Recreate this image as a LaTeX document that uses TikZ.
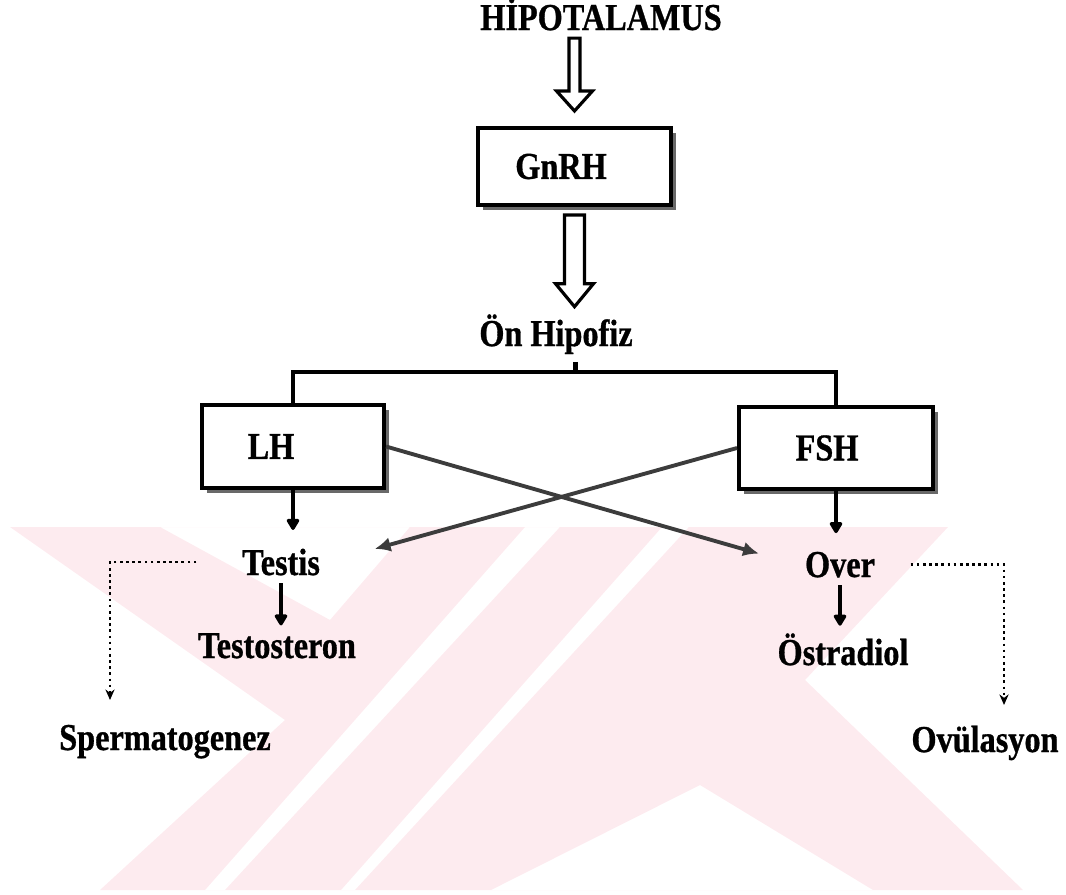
\documentclass[tikz,border=0pt]{standalone}
\usepackage{fontspec}
\setmainfont{Liberation Serif}[FakeStretch=0.85,BoldFeatures={FakeBold=0.8}]
\usepackage{tikz}
\usetikzlibrary{arrows.meta,positioning,calc,shadows}
\definecolor{WMpink}{RGB}{253,235,239}
\definecolor{CrossGray}{RGB}{60,60,60}
\definecolor{ShadowGray}{RGB}{105,105,105}
\tikzset{
  lbl/.style={font=\fontsize{10.8}{13}\selectfont\bfseries,inner sep=2pt},
  hbox/.style={lbl,rectangle,draw=black,line width=1.15pt,fill=white,
               drop shadow={shadow xshift=0.05cm,shadow yshift=-0.05cm,
                            fill=ShadowGray,opacity=1}},
  fat/.style n args={3}{draw=black,line width=0.9pt,fill=white,line join=miter,
     to path={let \p1=(\tikztostart),\p2=(\tikztotarget) in
       (\x1-#1,\y1) -- (\x1-#1,\y2+#3) -- (\x1-#2,\y2+#3) -- (\x1,\y2)
       -- (\x1+#2,\y2+#3) -- (\x1+#1,\y2+#3) -- (\x1+#1,\y1) -- cycle}},
  trunk/.style={line width=1.4pt,line join=miter},
  tick/.style={-{Triangle[round,length=3.6pt,width=4pt]},line width=1.1pt},
  cross/.style={-{Latex[length=4.5pt,width=4.2pt]},line width=1.1pt,CrossGray},
  feed/.style={-{Stealth[length=3pt,width=2.6pt]},densely dotted,line width=0.75pt},
}

\begin{document}
\begin{tikzpicture}[x=1cm,y=1cm]
  \useasboundingbox (0,0) rectangle (10.66,8.94);

  % watermark in the back
  \fill[WMpink,even odd rule]
    (0.10,3.67) -- (9.48,3.67) -- (8.05,2.14) -- (10.23,0.04) -- (1.00,0.04) -- (2.85,1.74) -- cycle
    (1.60,3.67) -- (4.10,3.67) -- (3.30,2.74) -- cycle
    (5.25,3.67) -- (5.60,3.67) -- (2.25,0.04) -- (2.05,0.04) -- cycle
    (6.62,3.67) -- (6.89,3.67) -- (3.55,0.04) -- (3.41,0.04) -- cycle
    (7.00,1.09) -- (8.73,0.04) -- (4.91,0.04) -- cycle;

  \node[lbl,anchor=base] (hipo) at (6.01,8.64) {HİPOTALAMUS};
  \node[hbox,minimum width=1.93cm,minimum height=0.77cm] (gnrh) at (5.745,7.275) {\hspace*{-0.27cm}GnRH};
  \node[lbl,anchor=base] (onhip) at (5.56,5.48) {Ön Hipofiz};
  \node[hbox,minimum width=1.82cm,minimum height=0.83cm] (lh) at (2.93,4.475) {\hspace*{-0.44cm}LH};
  \node[hbox,minimum width=1.94cm,minimum height=0.82cm] (fsh) at (8.36,4.46) {\hspace*{-0.18cm}FSH};

  \node[lbl,anchor=base] (testis) at (2.81,3.19) {Testis};
  \node[lbl,anchor=base] (testo) at (2.77,2.36) {Testosteron};
  \node[lbl,anchor=base] (sperm) at (1.65,1.44) {Spermatogenez};
  \node[lbl,anchor=base] (over) at (8.40,3.17) {Over};
  \node[lbl,anchor=base] (ostr) at (8.43,2.29) {Östradiol};
  \node[lbl,anchor=base] (ovul) at (9.85,1.42) {Ovülasyon};

  \coordinate (split) at (5.755,5.22);
  \coordinate (spdrop) at (1.10,1.94);
  \coordinate (ovdrop) at (10.04,1.89);

  \draw[fat={0.055cm}{0.18cm}{0.20cm}] (hipo.south -| gnrh.north) to ([yshift=0.15cm]gnrh.north);
  \draw[fat={0.10cm}{0.19cm}{0.23cm}] ([yshift=-0.08cm]gnrh.south) to (gnrh.south |- onhip.north);

  \draw[trunk] (onhip.south -| split) -- (split);
  \draw[trunk] (lh.north) -- (lh.north |- split) -- (fsh.north |- split) -- (fsh.north);

  \draw[tick] (lh.south) -- ([yshift=0.11cm]lh.south |- testis.north);
  \draw[tick] (fsh.south) -- ([yshift=0.11cm]fsh.south |- over.north);
  \draw[tick] (testis.south) -- (testis.south |- testo.north);
  \draw[tick] (over.south) -- (over.south |- ostr.north);

  \draw[cross,shorten >=0.40cm] (lh.east) -- (over.west);
  \draw[cross,shorten >=0.49cm] (fsh.west) -- (testis.east);

  \draw[feed,shorten <=0.38cm] (testis.west) -| (spdrop);
  \draw[feed,shorten <=0.28cm] (over.east) -| (ovdrop);
\end{tikzpicture}
\end{document}
